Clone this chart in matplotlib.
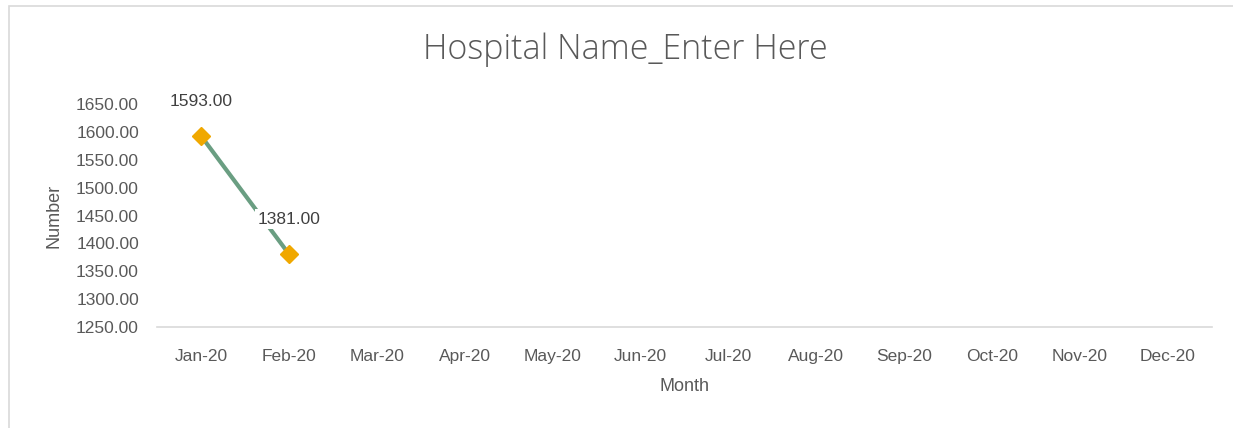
import matplotlib.pyplot as plt
from matplotlib.patches import Rectangle
import numpy as np

months = ['Jan-20', 'Feb-20', 'Mar-20', 'Apr-20', 'May-20', 'Jun-20',
          'Jul-20', 'Aug-20', 'Sep-20', 'Oct-20', 'Nov-20', 'Dec-20']
values = [1593.00, 1381.00]
yticks = [1250, 1300, 1350, 1400, 1450, 1500, 1550, 1600, 1650]

font = 'Liberation Sans'
grey = '#595959'

fig = plt.figure(figsize=(12.33, 4.28), dpi=100)
# outer chart border
fig.patches.append(Rectangle((9/1233, -0.05), 1.2, (428-6)/428 + 0.05, transform=fig.transFigure,
                             fill=False, edgecolor='#d9d9d9', linewidth=1.2))
ax = fig.add_axes([157/1233, 1-327/428, (1212-157)/1233, (327-104)/428])

x = np.arange(len(values))
ax.plot(x, values, color='#6a9e82', linewidth=3, marker='D', markersize=9,
        markerfacecolor='#f0a800', markeredgecolor='#f0a800', zorder=2)
for xi, v in zip(x, values):
    ax.annotate(f'{v:.2f}', (xi, v), xytext=(0, 25), textcoords='offset points',
                ha='center', va='center', fontsize=12.5, color='#404040', family=font,
                bbox=dict(boxstyle='square,pad=0.15', fc='white', ec='none'), zorder=3)

ax.set_xlim(-0.5, 11.5)
ax.set_ylim(1250, 1650)
ax.set_xticks(np.arange(len(months)))
ax.set_xticklabels(months)
ax.set_yticks(yticks)
ax.set_yticklabels([f'{t:.2f}' for t in yticks])
for lab in ax.get_xticklabels() + ax.get_yticklabels():
    lab.set_family(font)
    lab.set_fontsize(12.5)
    lab.set_color(grey)
ax.tick_params(axis='x', length=0, pad=16)
ax.tick_params(axis='y', length=0, pad=13)
for s in ['top', 'right', 'left']:
    ax.spines[s].set_visible(False)
ax.spines['bottom'].set_color('#d9d9d9')
ax.spines['bottom'].set_linewidth(1.2)

ax.set_xlabel('Month', family=font, fontsize=13, color=grey, labelpad=10)
ax.set_ylabel('Number', family=font, fontsize=13, color=grey, labelpad=10)
fig.text(625/1233, 1-50/428, 'Hospital Name_Enter Here', ha='center', va='center',
         fontsize=24.5, color=grey, family='Open Sans', fontweight='light')

fig.savefig('out.png', dpi=100)
